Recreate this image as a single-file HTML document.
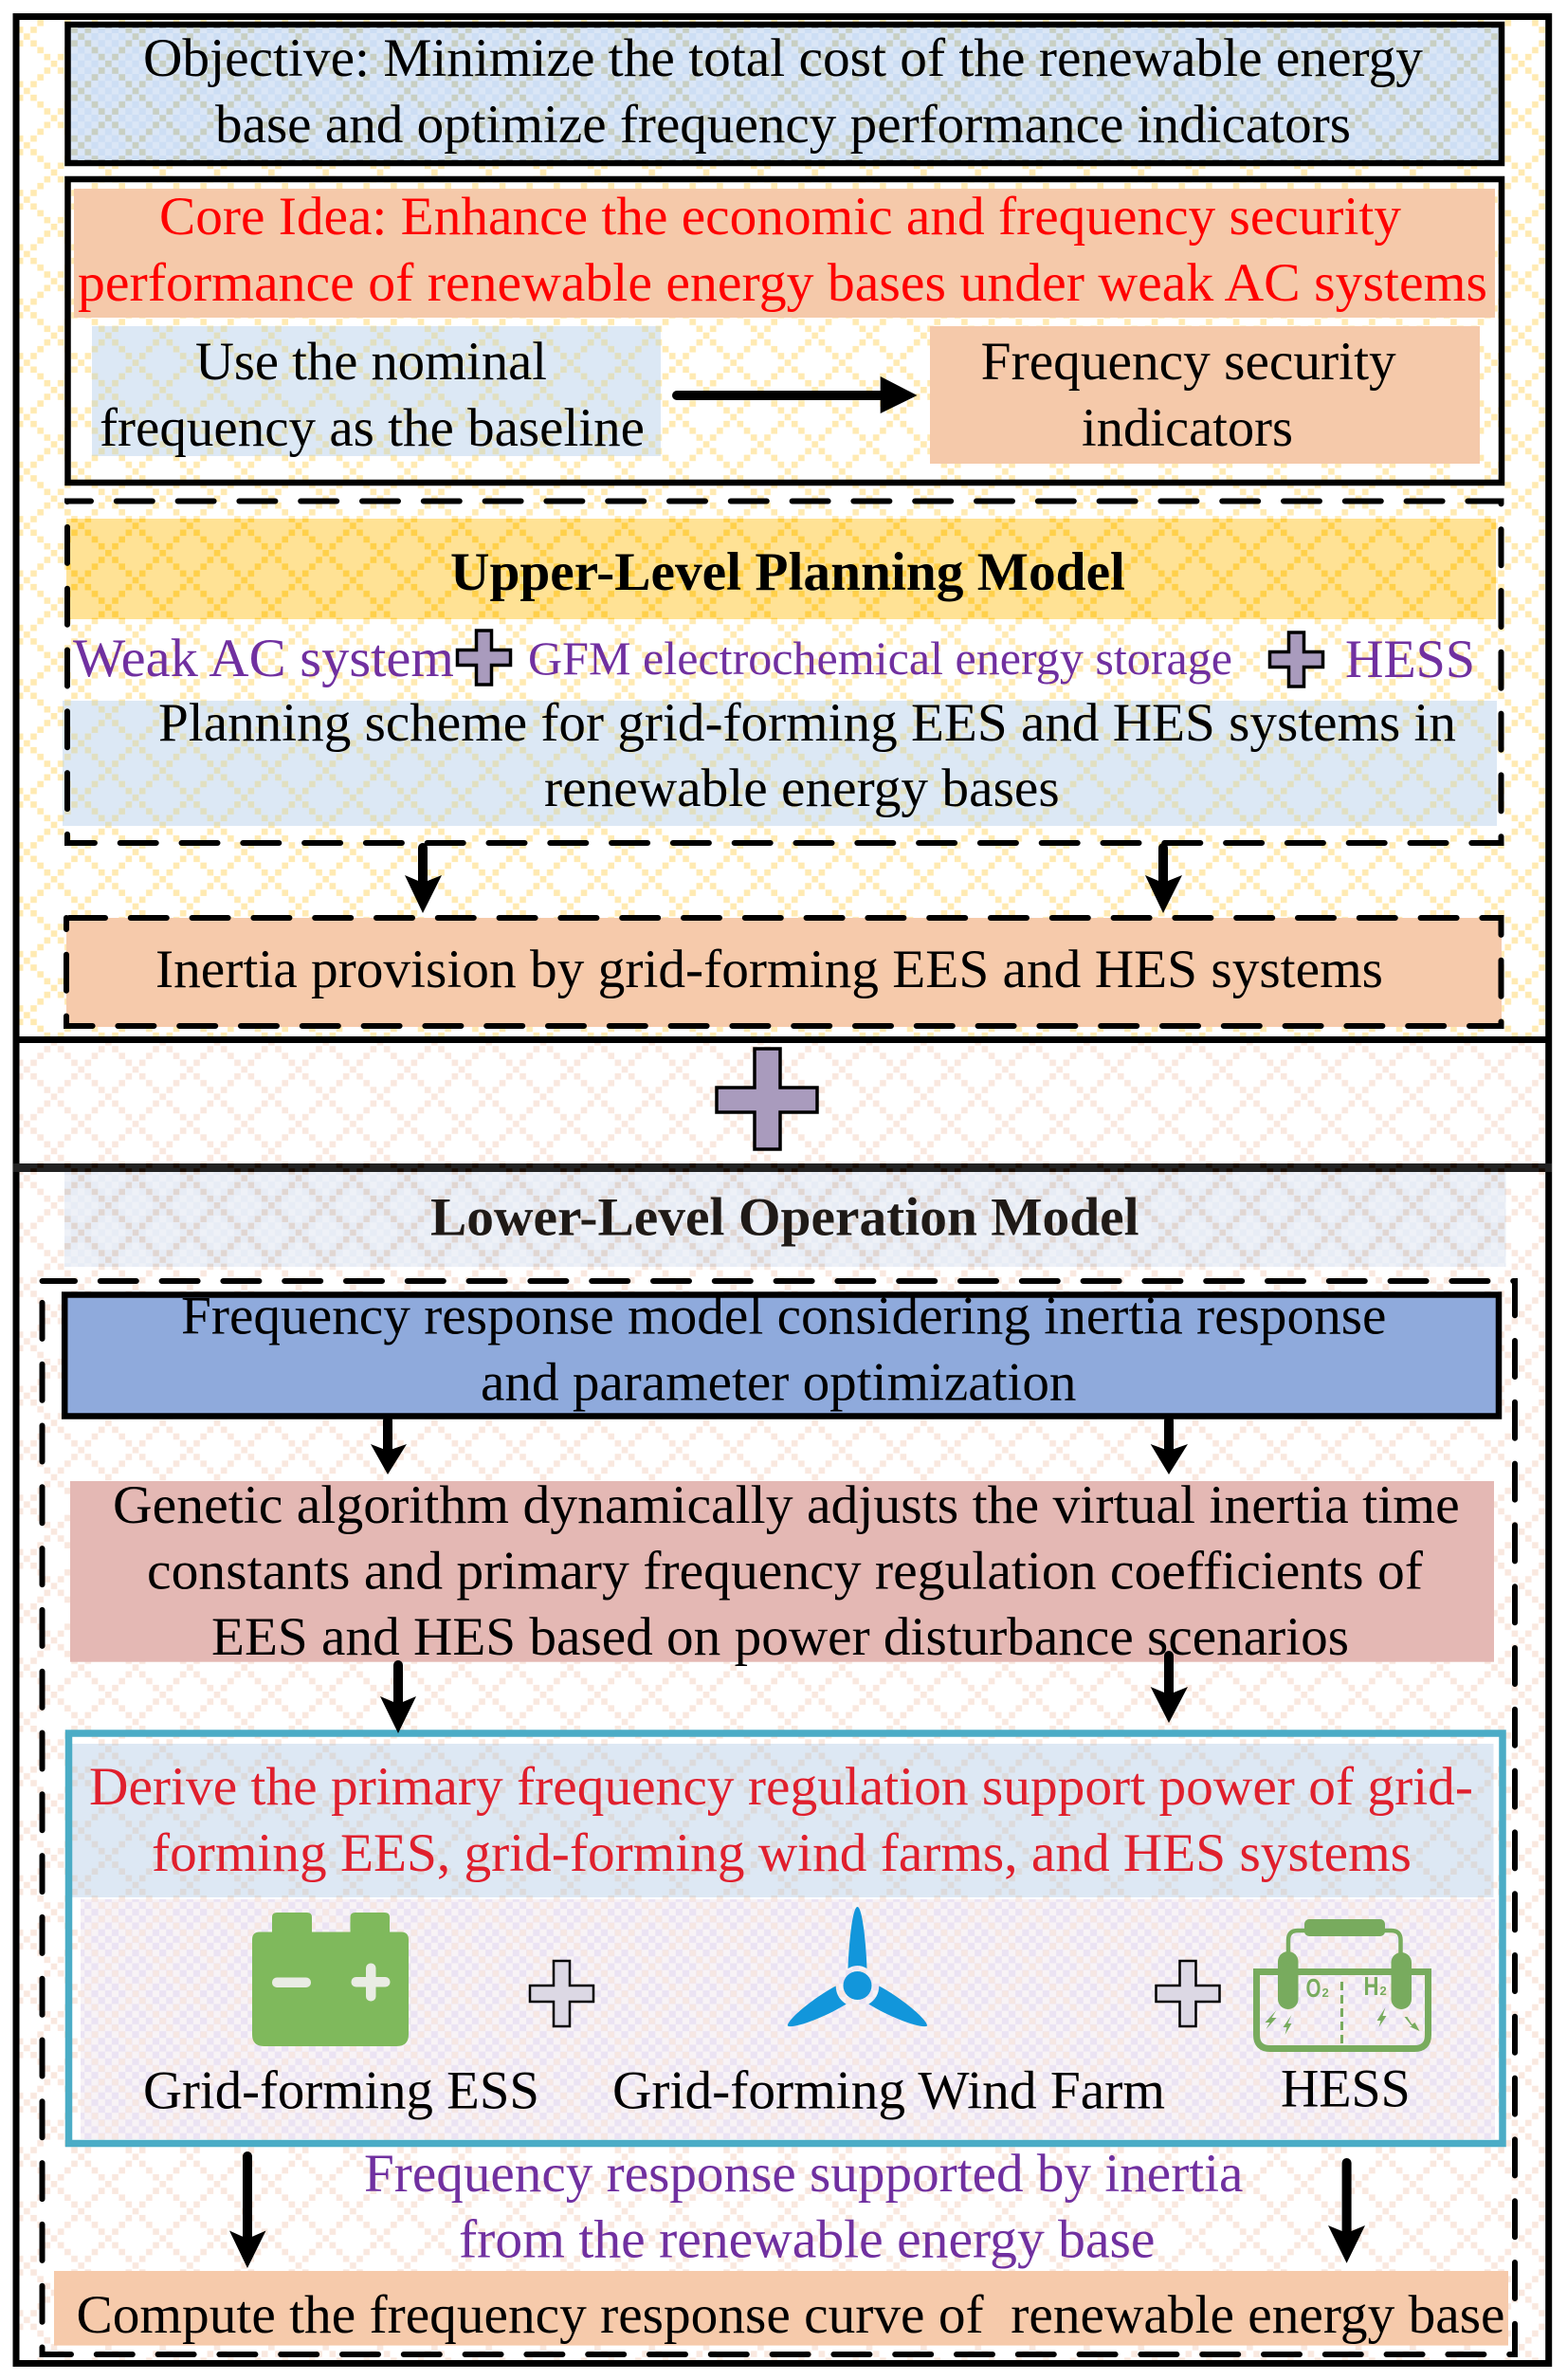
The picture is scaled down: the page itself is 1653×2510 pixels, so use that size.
<!DOCTYPE html>
<html lang="en">
<head>
<meta charset="utf-8">
<title>Planning and operation framework</title>
<style>
html,body{margin:0;padding:0;background:#fff;width:1653px;height:2510px;overflow:hidden}
svg{display:block}
text{font-family:"Liberation Serif","Times New Roman",serif;font-size:57px;fill:#000}
.b{font-weight:bold}
.r{fill:#ff0000}
.r2{fill:#e01f2d}
.p{fill:#7030a0}
.dash{fill:none;stroke:#000;stroke-width:6;stroke-linecap:round;stroke-dasharray:38 26.8}
.cross{stroke:#000}
.arrow{fill:#000}
.shaft{stroke:#000;stroke-width:10;stroke-linecap:round;fill:none}
</style>
</head>
<body>
<svg xmlns="http://www.w3.org/2000/svg" width="1653" height="2510" viewBox="0 0 1653 2510">
<defs>
<path id="lat" d="M.04 .04h.92v.92h-.92zM1.04 1.04h.92v.92h-.92zM2.04 2.04h.92v.92h-.92zM3.04 3.04h.92v.92h-.92zM4.04 4.04h.92v.92h-.92zM5.04 5.04h.92v.92h-.92zM6.04 6.04h.92v.92h-.92zM7.04 7.04h.92v.92h-.92zM1.04 7.04h.92v.92h-.92zM2.04 6.04h.92v.92h-.92zM3.04 5.04h.92v.92h-.92zM5.04 3.04h.92v.92h-.92zM6.04 2.04h.92v.92h-.92zM7.04 1.04h.92v.92h-.92z"/>
<pattern id="pYel" patternUnits="userSpaceOnUse" width="8" height="8" patternTransform="translate(82.1 1124.4) scale(7.167)"><use href="#lat" fill="#ffeab2"/></pattern>
<pattern id="pPea" patternUnits="userSpaceOnUse" width="8" height="8" patternTransform="translate(82.1 1124.4) scale(7.167)"><use href="#lat" fill="#f9e8df"/></pattern>
<pattern id="pGold" patternUnits="userSpaceOnUse" width="8" height="8" patternTransform="translate(82.1 1124.4) scale(7.167)"><use href="#lat" fill="#ffd04a"/></pattern>
<pattern id="pOli" patternUnits="userSpaceOnUse" width="8" height="8" patternTransform="translate(82.1 1124.4) scale(7.167)"><use href="#lat" fill="#e1dfc0"/></pattern>
<pattern id="pObj" patternUnits="userSpaceOnUse" width="8" height="8" patternTransform="translate(82.1 1124.4) scale(7.167)"><use href="#lat" fill="#c8cfc2"/></pattern>
<pattern id="pGry" patternUnits="userSpaceOnUse" width="8" height="8" patternTransform="translate(82.1 1124.4) scale(7.167)"><use href="#lat" fill="#dcdadb"/></pattern>
<pattern id="pBrn" patternUnits="userSpaceOnUse" width="8" height="8" patternTransform="translate(82.1 1124.4) scale(7.167)"><use href="#lat" fill="#e0d6d2"/></pattern>
<pattern id="pDrk" patternUnits="userSpaceOnUse" width="8" height="8" patternTransform="translate(82.1 1124.4) scale(7.167)"><use href="#lat" fill="#190d05"/></pattern>
<pattern id="chkObj" patternUnits="userSpaceOnUse" width="2" height="2" patternTransform="translate(82.1 1124.4) scale(7.167)"><path d="M0 0h1v1h-1zM1 1h1v1h-1z" fill="#cddef4"/></pattern>
<pattern id="chkLow" patternUnits="userSpaceOnUse" width="2" height="2" patternTransform="translate(82.1 1124.4) scale(7.167)"><path d="M0 0h1v1h-1zM1 1h1v1h-1z" fill="#eef1f7"/></pattern>
<pattern id="chkPur" patternUnits="userSpaceOnUse" width="2" height="2" patternTransform="translate(82.1 1124.4) scale(7.167)"><path d="M0 0h1v1h-1zM1 1h1v1h-1z" fill="#ebe3f3"/></pattern>
</defs>

<!-- section backgrounds -->
<rect x="20" y="21" width="1610" height="1072" fill="url(#pYel)"/>
<rect x="20" y="1100" width="1610" height="127" fill="url(#pPea)"/>
<rect x="20" y="1236" width="1610" height="1253" fill="url(#pPea)"/>

<!-- outer frame -->
<rect x="17" y="17.5" width="1616.7" height="2475" fill="none" stroke="#000" stroke-width="7"/>
<rect x="14" y="1093" width="1623" height="7" fill="#000"/>
<rect x="14" y="1227" width="1623" height="9" fill="#222"/>
<rect x="28" y="1227" width="1602" height="9" fill="url(#pDrk)"/>

<!-- objective -->
<rect x="71.5" y="26" width="1512.5" height="146" fill="#dae6f6" stroke="#000" stroke-width="6.5"/>
<rect x="75" y="29" width="1505.5" height="140" fill="url(#chkObj)"/>
<rect x="75" y="29" width="1505.5" height="140" fill="url(#pObj)"/>
<text x="151" y="80" textLength="1350" lengthAdjust="spacingAndGlyphs">Objective: Minimize the total cost of the renewable energy</text>
<text x="227" y="150" textLength="1198" lengthAdjust="spacingAndGlyphs">base and optimize frequency performance indicators</text>

<!-- core idea -->
<rect x="71.5" y="189" width="1512.5" height="320" fill="none" stroke="#000" stroke-width="6.5"/>
<rect x="78" y="199" width="1499" height="136" fill="#f5c9aa"/>
<text class="r" x="168" y="247" textLength="1310" lengthAdjust="spacingAndGlyphs">Core Idea: Enhance the economic and frequency security</text>
<text class="r" x="82" y="317" textLength="1487" lengthAdjust="spacingAndGlyphs">performance of renewable energy bases under weak AC systems</text>
<rect x="97" y="344" width="600" height="137" fill="#dce8f5"/>
<rect x="97" y="344" width="600" height="137" fill="url(#pOli)"/>
<text x="206" y="400" textLength="371" lengthAdjust="spacingAndGlyphs">Use the nominal</text>
<text x="105" y="470" textLength="575" lengthAdjust="spacingAndGlyphs">frequency as the baseline</text>
<rect x="981" y="344" width="580" height="145" fill="#f5c9aa"/>
<text x="1034.7" y="400" textLength="438" lengthAdjust="spacingAndGlyphs">Frequency security</text>
<text x="1141" y="470" textLength="223" lengthAdjust="spacingAndGlyphs">indicators</text>
<path class="shaft" d="M714 417H938"/>
<path class="arrow" d="M928.7 397L967.5 417L928.7 436Z"/>

<!-- upper-level -->
<rect x="70" y="547" width="1508" height="106" fill="#ffe295"/>
<rect x="70" y="547" width="1508" height="106" fill="url(#pGold)"/>
<text class="b" x="475" y="622" textLength="712" lengthAdjust="spacingAndGlyphs">Upper-Level Planning Model</text>
<rect x="66" y="739" width="1513" height="132" fill="#dce8f5"/>
<rect x="66" y="739" width="1513" height="132" fill="url(#pOli)"/>
<path class="dash" stroke-dashoffset="13" d="M71 528.5H1583.5V889H71Z"/>
<text class="p" x="77" y="713" textLength="402" lengthAdjust="spacingAndGlyphs">Weak AC system</text>
<path class="cross" fill="#a99bbd" stroke-width="3.5" d="M502.5 665h16v20.5h20v16h-20v20.5h-16v-20.5h-20v-16h20z"/>
<text class="p" x="557" y="711" style="font-size:50px" textLength="743" lengthAdjust="spacingAndGlyphs">GFM electrochemical energy storage</text>
<path class="cross" fill="#a99bbd" stroke-width="3.5" d="M1359.5 667h16v20.5h20v16h-20v20.5h-16v-20.5h-20v-16h20z"/>
<text class="p" x="1419" y="714" textLength="137" lengthAdjust="spacingAndGlyphs">HESS</text>
<text x="167" y="781" textLength="1369" lengthAdjust="spacingAndGlyphs">Planning scheme for grid-forming EES and HES systems in</text>
<text x="574" y="850" textLength="543.7" lengthAdjust="spacingAndGlyphs">renewable energy bases</text>

<!-- arrows into inertia -->
<path class="shaft" d="M446 894V935"/>
<path class="arrow" d="M427 923L446 931L466 923L446 963Z"/>
<path class="shaft" d="M1227 894V935"/>
<path class="arrow" d="M1208 923L1227 931L1247 923L1227 963Z"/>

<!-- inertia box -->
<rect x="70" y="968" width="1514" height="115" fill="#f6caab"/>
<path class="dash" d="M73 968H1583.5V1082H70V968"/>
<text x="164" y="1041" textLength="1295" lengthAdjust="spacingAndGlyphs">Inertia provision by grid-forming EES and HES systems</text>

<!-- big plus -->
<path class="cross" fill="#a99bbd" stroke-width="3.5" d="M796 1106h27v41h39v26h-39v39h-27v-39h-40v-26h40z"/>

<!-- lower-level title -->
<rect x="68" y="1236" width="1520.5" height="100" fill="#e7ecf5"/>
<rect x="68" y="1236" width="1520.5" height="100" fill="url(#chkLow)"/>
<rect x="68" y="1236" width="1520.5" height="100" fill="url(#pBrn)"/>
<text class="b" x="454" y="1302.7" style="fill:#1f1a17" textLength="747.6" lengthAdjust="spacingAndGlyphs">Lower-Level Operation Model</text>

<!-- inner dashed frame -->
<path class="dash" stroke-dashoffset="3.5" d="M44.5 1351H1598V2483H44.5Z"/>

<!-- frequency response model -->
<rect x="68.2" y="1365.5" width="1512.8" height="128" fill="#8faadc" stroke="#000" stroke-width="6.5"/>
<text x="191" y="1406.7" textLength="1271.5" lengthAdjust="spacingAndGlyphs">Frequency response model considering inertia response</text>
<text x="507" y="1476.7" textLength="628.5" lengthAdjust="spacingAndGlyphs">and parameter optimization</text>

<!-- genetic -->
<rect x="74" y="1562" width="1502" height="190.7" fill="#e4b8b4"/>
<text x="119" y="1606" textLength="1420.7" lengthAdjust="spacingAndGlyphs">Genetic algorithm dynamically adjusts the virtual inertia time</text>
<text x="155" y="1675.7" textLength="1346" lengthAdjust="spacingAndGlyphs">constants and primary frequency regulation coefficients of</text>
<text x="223" y="1745" textLength="1200" lengthAdjust="spacingAndGlyphs">EES and HES based on power disturbance scenarios</text>

<path class="shaft" d="M409 1498V1530"/>
<path class="arrow" d="M391 1523L409 1530L429 1523L409 1555Z"/>
<path class="shaft" d="M1233 1498V1530"/>
<path class="arrow" d="M1213.7 1523L1233 1530L1253 1523L1233 1555Z"/>

<!-- teal panel -->
<rect x="76" y="1839" width="1499.5" height="162" fill="#dde8f4"/>
<rect x="76" y="1839" width="1499.5" height="162" fill="url(#pGry)"/>
<rect x="85" y="2003" width="1492" height="253" fill="#f8f3f6"/>
<rect x="85" y="2003" width="1492" height="253" fill="url(#chkPur)"/>
<rect x="85" y="2003" width="1492" height="253" fill="url(#pPea)" opacity=".8"/>
<rect x="72.5" y="1828" width="1512.5" height="432.5" fill="none" stroke="#4bacc6" stroke-width="7.5"/>
<text class="r2" x="94" y="1903" textLength="1460" lengthAdjust="spacingAndGlyphs">Derive the primary frequency regulation support power of grid-</text>
<text class="r2" x="160" y="1973" textLength="1329" lengthAdjust="spacingAndGlyphs">forming EES, grid-forming wind farms, and HES systems</text>

<path class="shaft" d="M420 1756V1800"/>
<path class="arrow" d="M401 1789L420 1797L439 1789L420 1828Z"/>
<path class="shaft" d="M1233 1746V1790"/>
<path class="arrow" d="M1213.7 1779L1233 1787L1253 1779L1233 1817Z"/>

<!-- battery -->
<path fill="#7fb95c" d="M287 2022q0-5 5-5h32q5 0 5 5v15.5h40.5V2022q0-5 5-5h31.5q5 0 5 5v15.5h12q8 0 8 8v100q0 12.5-12.5 12.5H278.5q-12.5 0-12.5-12.5v-100q0-8 8-8h13z"/>
<rect x="287" y="2085.5" width="41" height="10.5" rx="5" fill="#e9ece4"/>
<rect x="370.5" y="2085" width="41" height="10.5" rx="5" fill="#e9ece4"/>
<rect x="386" y="2070.5" width="10.5" height="40" rx="5" fill="#e9ece4"/>

<!-- plus 1 -->
<path class="cross" fill="#dcd8e4" stroke-width="2.5" d="M584 2068h17v26h25v17h-25v26h-17v-26h-25v-17h25z"/>

<!-- wind turbine -->
<g fill="#1296db">
<circle cx="904.5" cy="2094" r="15"/>
<path d="M904.5 2011C899.5 2011 895.5 2048 894.5 2076Q904.5 2070 914.5 2076C913.5 2048 909.5 2011 904.5 2011Z"/>
<path transform="rotate(120 904.5 2094)" d="M904.5 2009C898.5 2012 892.5 2048 893.5 2074Q904.5 2068 915.5 2074C916.5 2048 910.5 2012 904.5 2009Z"/>
<path transform="rotate(240 904.5 2094)" d="M904.5 2009C898.5 2012 892.5 2048 893.5 2074Q904.5 2068 915.5 2074C916.5 2048 910.5 2012 904.5 2009Z"/>
</g>

<!-- plus 2 -->
<path class="cross" fill="#dcd8e4" stroke-width="2.5" d="M1244.5 2068h17v26h25v17h-25v26h-17v-26h-25v-17h25z"/>

<!-- HESS icon -->
<g fill="#78ab5e" stroke="none" transform="translate(-4.5 0)">
<path fill="none" stroke="#78ab5e" stroke-width="7" d="M1330 2079.5H1511V2146q0 14.5-14.5 14.5H1344.5q-14.5 0-14.5-14.5Z"/>
<path fill="none" stroke="#78ab5e" stroke-width="3" stroke-dasharray="9 5" d="M1420 2090V2158"/>
<path fill="none" stroke="#78ab5e" stroke-width="4.5" d="M1363.5 2060V2046q0-10 10-10H1472q10 0 10 10V2060"/>
<rect x="1380.5" y="2024" width="85" height="18" rx="5"/>
<rect x="1352.5" y="2058" width="21.5" height="61" rx="10.7"/>
<rect x="1472" y="2059" width="21.5" height="60" rx="10.7"/>
<text x="1382" y="2106" style="font-family:'Liberation Sans',sans-serif;font-size:28px;font-weight:bold;fill:#78ab5e" textLength="16" lengthAdjust="spacingAndGlyphs">O</text>
<text x="1399" y="2106" style="font-family:'Liberation Sans',sans-serif;font-size:13px;font-weight:bold;fill:#78ab5e">2</text>
<text x="1443" y="2104" style="font-family:'Liberation Sans',sans-serif;font-size:28px;font-weight:bold;fill:#78ab5e" textLength="16" lengthAdjust="spacingAndGlyphs">H</text>
<text x="1460" y="2104" style="font-family:'Liberation Sans',sans-serif;font-size:13px;font-weight:bold;fill:#78ab5e">2</text>
<path d="M1351 2120L1339 2133L1344 2133L1340 2140L1351 2128L1346 2128Z"/>
<path d="M1367 2125L1358 2138L1362 2138L1360 2146L1367 2134L1363 2134Z"/>
<path d="M1466 2117L1457 2131L1461 2131L1459 2138L1467 2126L1463 2126Z"/>
<path d="M1486 2127L1494 2137L1491 2137L1502 2142L1497 2133L1494 2135L1489 2127Z"/>
</g>

<!-- labels -->
<text x="151" y="2223.4" textLength="418" lengthAdjust="spacingAndGlyphs">Grid-forming ESS</text>
<text x="646" y="2223.4" textLength="583" lengthAdjust="spacingAndGlyphs">Grid-forming Wind Farm</text>
<text x="1351" y="2221.7" textLength="136.7" lengthAdjust="spacingAndGlyphs">HESS</text>

<!-- purple text -->
<text class="p" x="384" y="2311" textLength="927.4" lengthAdjust="spacingAndGlyphs">Frequency response supported by inertia</text>
<text class="p" x="484" y="2380.6" textLength="734.5" lengthAdjust="spacingAndGlyphs">from the renewable energy base</text>

<!-- bottom -->
<rect x="57" y="2395" width="1534" height="78.6" fill="#f6caab"/>
<text x="80.5" y="2460" textLength="1507" lengthAdjust="spacingAndGlyphs">Compute the frequency response curve of&#160; renewable energy base</text>

<path class="shaft" d="M261 2274V2360"/>
<path class="arrow" d="M242 2352.5L261 2361L280.5 2352.5L261 2392Z"/>
<path class="shaft" d="M1420.6 2281V2355"/>
<path class="arrow" d="M1401 2347L1420.6 2355L1440 2347L1420.6 2386.7Z"/>
</svg>
</body>
</html>
